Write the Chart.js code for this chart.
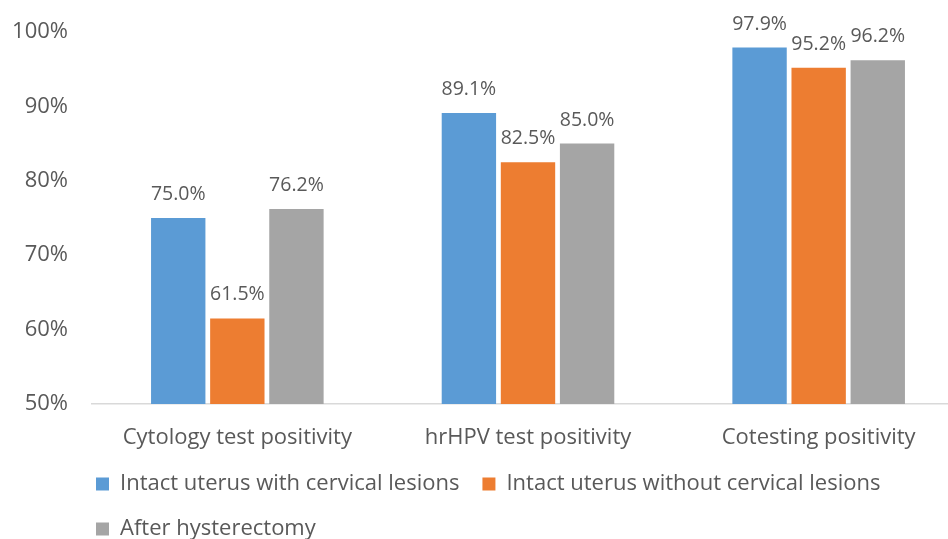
<!DOCTYPE html>
<html>
<head>
<meta charset="utf-8">
<script src="https://cdn.jsdelivr.net/npm/chart.js@4.4.1/dist/chart.umd.min.js"></script>
<style>
    html, body { margin: 0; padding: 0; background: #fff; overflow: hidden; }
</style>
</head>
<body>
<canvas id="hpv-chart" width="964" height="550"></canvas>
<script>
// data
const categories = ["Cytology test positivity", "hrHPV test positivity", "Cotesting positivity"];
const seriesNames = [
    "Intact uterus with cervical lesions",
    "Intact uterus without cervical lesions",
    "After hysterectomy",
];
const withLesions = [75.0, 89.1, 97.9];
const withoutLesions = [61.5, 82.5, 95.2];
const afterHysterectomy = [76.2, 85.0, 96.2];
const yTicks = [50, 60, 70, 80, 90, 100];

const textColor = "#595959";
const fontFamily = "'Open Sans', 'DejaVu Sans', sans-serif";

// labels above bars
const barLabels = {
    id: "barLabels",
    afterDatasetsDraw(chart) {
        const ctx = chart.ctx;
        ctx.save();
        ctx.fillStyle = textColor;
        ctx.font = "19.5px " + fontFamily;
        ctx.textAlign = "center";
        ctx.textBaseline = "alphabetic";
        chart.data.datasets.forEach((ds, i) => {
            chart.getDatasetMeta(i).data.forEach((bar, j) => {
                ctx.fillText(ds.data[j].toFixed(1) + "%", bar.x, bar.y - 18);
            });
        });
        ctx.restore();
    },
};

// move legend so it starts under the plot area
const legendShift = {
    id: "legendShift",
    afterLayout(chart) {
        chart.legend.left = 73;
    },
};

const ctx = document.getElementById("hpv-chart").getContext("2d");
new Chart(ctx, {
    type: "bar",
    data: {
        labels: categories,
        datasets: [
            { label: seriesNames[0], data: withLesions, backgroundColor: "#5b9bd5" },
            { label: seriesNames[1], data: withoutLesions, backgroundColor: "#ed7d31" },
            { label: seriesNames[2], data: afterHysterectomy, backgroundColor: "#a5a5a5" },
        ],
    },
    plugins: [barLabels, legendShift],
    options: {
        responsive: false,
        animation: false,
        categoryPercentage: 0.61,
        barPercentage: 0.92,
        layout: { padding: { top: 32, left: 0, right: 0, bottom: 0 } },
        plugins: {
            tooltip: { enabled: false },
            legend: {
                position: "bottom",
                align: "start",
                labels: {
                    color: textColor,
                    font: { family: fontFamily, size: 22 },
                    boxWidth: 13,
                    boxHeight: 13,
                    padding: 23,
                },
            },
        },
        scales: {
            x: {
                grid: { display: false, drawTicks: false },
                border: { color: "#d9d9d9", width: 1.5 },
                ticks: {
                    color: textColor,
                    font: { family: fontFamily, size: 22 },
                    padding: 21,
                },
                afterFit: (axis) => {
                    axis.height = 46;
                },
            },
            y: {
                min: yTicks[0],
                max: yTicks[yTicks.length - 1],
                grid: { display: false, drawTicks: false },
                border: { display: false },
                afterBuildTicks: (axis) => {
                    axis.ticks = yTicks.map((v) => ({ value: v }));
                },
                afterFit: (axis) => {
                    axis.width = 92;
                    axis.paddingTop = 0;
                },
                ticks: {
                    color: textColor,
                    font: { family: fontFamily, size: 22 },
                    padding: 24,
                    callback: (v) => v + "%",
                },
            },
        },
    },
});
</script>
</body>
</html>
